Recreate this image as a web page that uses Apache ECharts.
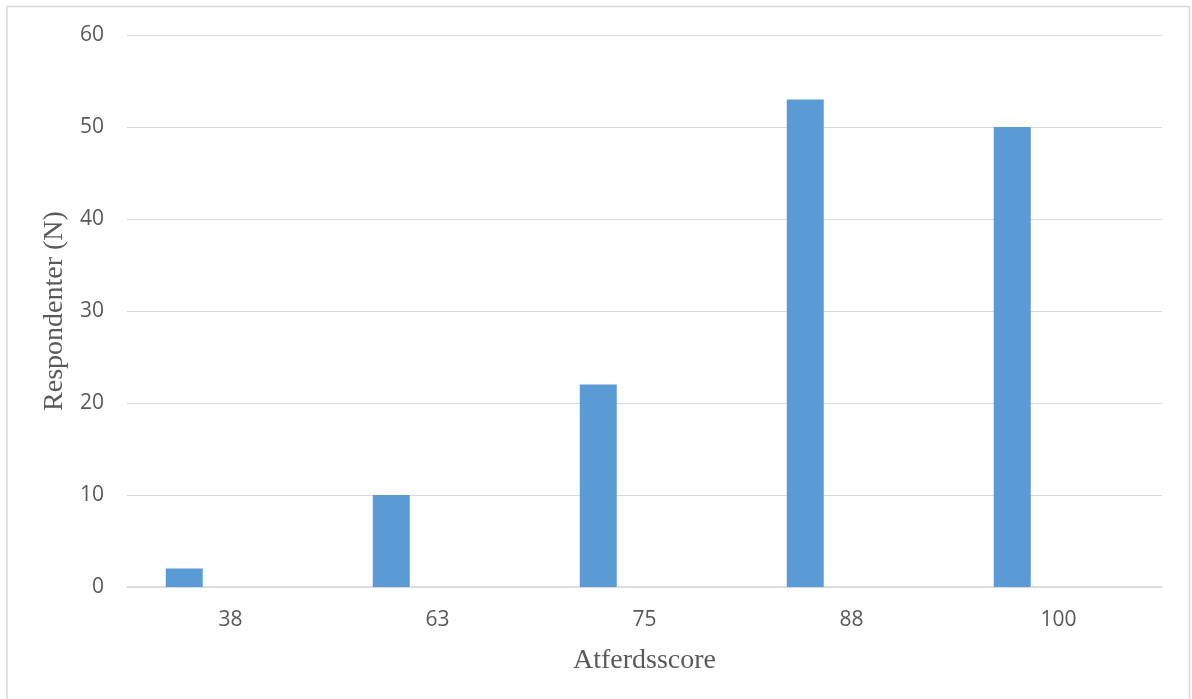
<!DOCTYPE html>
<html>
<head>
<meta charset="utf-8">
<script src="https://cdn.jsdelivr.net/npm/echarts@6/dist/echarts.min.js"></script>
<style>
  html, body { margin: 0; padding: 0; background: #ffffff; }
  #chart { width: 1192px; height: 699px; }
</style>
</head>
<body>
<div id="chart"></div>
<script>
// Atferdsscore categories and respondent counts
const categories = ['38', '63', '75', '88', '100'];
const serie1 = [2, 10, 22, 53, 50];
const serie2 = [0, 0, 0, 0, 0];
const yTicks = { min: 0, max: 60, interval: 10 };

const chart = echarts.init(document.getElementById('chart'));
const labelColor = '#595959';
const gridColor = '#D9D9D9';

chart.setOption({
  animation: false,
  backgroundColor: '#ffffff',
  graphic: [{
    type: 'rect',
    shape: { x: 7, y: 6.5, width: 1182.5, height: 720 },
    style: { fill: 'none', stroke: gridColor, lineWidth: 1.5 },
    silent: true
  }],
  grid: { left: 127, right: 30, top: 35, bottom: 112 },
  xAxis: {
    type: 'category',
    data: categories,
    name: 'Atferdsscore',
    nameLocation: 'middle',
    nameGap: 60,
    nameTextStyle: { fontFamily: 'Liberation Serif', fontSize: 28, color: labelColor },
    axisLine: { lineStyle: { color: gridColor, width: 1.5 } },
    axisTick: { show: false },
    axisLabel: { fontFamily: 'Open Sans', fontSize: 21, color: labelColor, margin: 23 },
  },
  yAxis: {
    type: 'value',
    min: yTicks.min,
    max: yTicks.max,
    interval: yTicks.interval,
    name: 'Respondenter (N)',
    nameLocation: 'middle',
    nameGap: 56,
    nameTextStyle: { fontFamily: 'Liberation Serif', fontSize: 28, color: labelColor },
    axisLine: { show: false },
    axisTick: { show: false },
    axisLabel: { fontFamily: 'Open Sans', fontSize: 21, color: labelColor, margin: 23 },
    splitLine: { lineStyle: { color: gridColor, width: 1.2 } }
  },
  series: [
    { name: 'Serie1', type: 'bar', data: serie1, barWidth: 37, barGap: '150%',
      itemStyle: { color: '#5B9BD5' } },
    { name: 'Serie2', type: 'bar', data: serie2, barWidth: 37,
      itemStyle: { color: '#ED7D31' } }
  ]
});
</script>
</body>
</html>
